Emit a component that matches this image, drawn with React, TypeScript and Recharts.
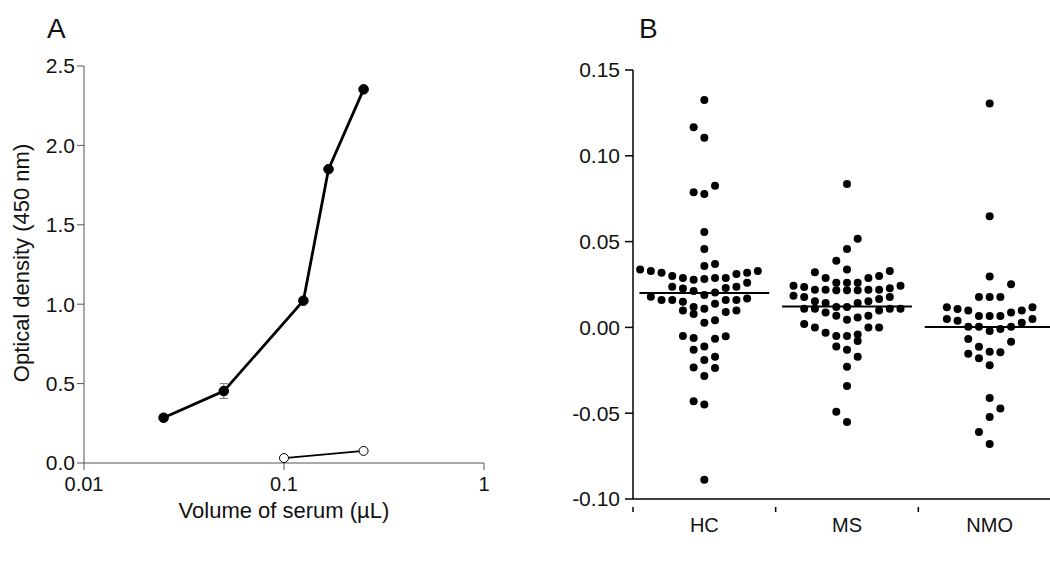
import React from 'react'
import {
  LineChart,
  Line,
  ErrorBar,
  ScatterChart,
  Scatter,
  XAxis,
  YAxis,
  ReferenceLine,
} from 'recharts'

// Panel A: titration of serum
const posVolume = [0.025, 0.05, 0.125, 0.167, 0.25]
const posOD = [0.285, 0.453, 1.022, 1.85, 2.353]
const posErr = [0, 0.047, 0, 0, 0]
const negVolume = [0.1, 0.25]
const negOD = [0.031, 0.076]
const odTicks = [0, 0.5, 1, 1.5, 2, 2.5]
const volumeTicks = [0.01, 0.1, 1]

// Panel B: groups, values and beeswarm column index per dot
const groups = ['HC', 'MS', 'NMO']
const groupMedians = [0.02, 0.0122, 0.0003]
const hcValues = [
  0.1325, 0.1166, 0.1105, 0.0826, 0.0787, 0.0777, 0.0556, 0.0457, 0.0358, 0.0369,
  0.0338, 0.0329, 0.0319, 0.03, 0.0288, 0.0278, 0.0282, 0.0288, 0.0288, 0.0311, 0.0319, 0.0329,
  0.0237, 0.0227, 0.0212, 0.0189, 0.0204, 0.0229, 0.0237, 0.026,
  0.0179, 0.016, 0.016, 0.015, 0.0119, 0.0109, 0.0138, 0.016, 0.016, 0.0169,
  0.0099, 0.0078, 0.009, 0.0099,
  0.0027, 0.0041,
  -0.005, -0.0062, -0.0066, -0.0052,
  -0.0112, -0.013, -0.0171, -0.019, -0.0233, -0.0237, -0.0283,
  -0.0431, -0.045, -0.0888,
]
const hcColumns = [
  0, -1, 0, 1, -1, 0, 0, 0, 0, 1,
  -6, -5, -4, -3, -2, -1, 0, 1, 2, 3, 4, 5,
  -3, -2, -1, 0, 1, 2, 3, 4,
  -5, -4, -3, -2, -1, 0, 1, 2, 3, 4,
  -2, -1, 2, 3,
  0, 1,
  -2, -1, 1, 2,
  0, -1, 1, 0, -1, 1, 0,
  -1, 0, 0,
]
const msValues = [
  0.0836, 0.0517, 0.0457, 0.0389, 0.0338, 0.0321, 0.0329, 0.03, 0.0288, 0.0288,
  0.026, 0.026, 0.026,
  0.0243, 0.0236, 0.022, 0.022, 0.0216, 0.0216, 0.0216, 0.022, 0.022, 0.0228, 0.0243,
  0.0184, 0.0177, 0.0152, 0.0142, 0.0142, 0.0152, 0.0165, 0.0177,
  0.0109, 0.0109, 0.0119, 0.0119, 0.0099, 0.0109, 0.0109,
  0.0087, 0.0068, 0.0058, 0.0068,
  0.0045,
  0.002, 0.0, -0.0031, 0.0, 0.0,
  -0.005, -0.005, -0.0041, -0.0079,
  -0.0111, -0.013, -0.0171, -0.0229,
  -0.0342, -0.0491, -0.0551,
]
const msColumns = [
  0, 1, 0, -1, 0, -3, 4, 3, -2, 2,
  -1, 0, 1,
  -5, -4, -3, -2, -1, 0, 1, 2, 3, 4, 5,
  -5, -4, -3, -2, 1, 2, 3, 4,
  -4, -3, -1, 0, 3, 4, 5,
  -2, -1, 1, 2,
  0,
  -4, -3, -2, 2, 3,
  -1, 0, 1, 1,
  -1, 0, 1, 0,
  0, -1, 0,
]
const nmoValues = [
  0.1305, 0.0647, 0.0297, 0.0251, 0.0177, 0.0177, 0.0177,
  0.0117, 0.0107, 0.0099, 0.0066, 0.0066, 0.0066, 0.0087, 0.0099, 0.0117,
  0.0049, 0.0039, 0.0027, 0.0049,
  0.0004, 0.0004, -0.0021, -0.001, 0.0004,
  -0.0068, -0.0083,
  -0.0113, -0.0142, -0.0145, -0.0153,
  -0.018, -0.0221,
  -0.0411, -0.0472, -0.0522, -0.061, -0.068,
]
const nmoColumns = [
  0, 0, 0, 2, -1, 0, 1,
  -4, -3, -2, -1, 0, 1, 2, 3, 4,
  -4, -3, 3, 4,
  -2, -1, 0, 1, 2,
  -2, 2,
  -1, 0, 1, -2,
  -1, 0,
  0, 1, 0, -1, 0,
]
const groupTicks = [-0.1, -0.05, 0, 0.05, 0.1, 0.15]

const FONT = '"Liberation Sans", Arial, sans-serif'
const COL_STEP = 0.075

const posData = posVolume.map((v, i) => ({ v, od: posOD[i], err: posErr[i] }))
const negData = negVolume.map((v, i) => ({ v, od: negOD[i] }))

const swarm = (values: number[], cols: number[], g: number) =>
  values.map((y, i) => ({ x: g + 0.5 + cols[i] * COL_STEP, y }))

const swarmData = [
  swarm(hcValues, hcColumns, 0),
  swarm(msValues, msColumns, 1),
  swarm(nmoValues, nmoColumns, 2),
]

const Dot = (props: any) => <circle cx={props.cx} cy={props.cy} r={4} fill="#000" />

const GroupTick = (props: any) => {
  const { x, y, payload } = props
  const v = payload.value
  if (Number.isInteger(v)) {
    return <line x1={x} x2={x} y1={y} y2={y + 5} stroke="#000" strokeWidth={1.5} />
  }
  return (
    <text x={x} y={y + 25} textAnchor="middle" fontSize={20} fontFamily={FONT} fill="#111">
      {groups[Math.floor(v)]}
    </text>
  )
}

export default function App() {
  return (
    <div
      style={{
        position: 'absolute',
        left: 0,
        top: 0,
        width: 1050,
        height: 564,
        overflow: 'hidden',
        background: '#fff',
        fontFamily: FONT,
        color: '#111',
      }}
    >
      {/* panel letters */}
      <div style={{ position: 'absolute', left: 47, top: 13, fontSize: 28, lineHeight: '32px' }}>A</div>
      <div style={{ position: 'absolute', left: 639, top: 13, fontSize: 28, lineHeight: '32px' }}>B</div>

      {/* Panel A */}
      <div style={{ position: 'absolute', left: 0, top: 0 }}>
        <LineChart width={520} height={564} margin={{ top: 66, left: 24, right: 36, bottom: 71 }}>
          <XAxis
            dataKey="v"
            type="number"
            scale="log"
            domain={[0.01, 1]}
            ticks={volumeTicks}
            allowDataOverflow
            tickFormatter={(v: number) => String(v)}
            tickSize={7}
            tickMargin={7}
            stroke="#555"
            tick={{ fill: '#111', fontSize: 20, fontFamily: FONT }}
          />
          <YAxis
            type="number"
            domain={[0, 2.5]}
            ticks={odTicks}
            tickFormatter={(v: number) => v.toFixed(1)}
            tickSize={7}
            tickMargin={2}
            width={60}
            stroke="#555"
            tick={{ fill: '#111', fontSize: 21, fontFamily: FONT }}
          />
          <Line
            data={posData}
            dataKey="od"
            stroke="#000"
            strokeWidth={2.8}
            dot={{ r: 4.8, fill: '#000', stroke: '#000', strokeWidth: 1 }}
            isAnimationActive={false}
          >
            <ErrorBar dataKey="err" width={4} stroke="#777" strokeWidth={1} direction="y" />
          </Line>
          <Line
            data={negData}
            dataKey="od"
            stroke="#000"
            strokeWidth={1.8}
            dot={{ r: 4.5, fill: '#fff', stroke: '#000', strokeWidth: 1 }}
            isAnimationActive={false}
          />
        </LineChart>
      </div>
      <div
        style={{
          position: 'absolute',
          left: -128,
          top: 250,
          width: 300,
          lineHeight: '26px',
          textAlign: 'center',
          fontSize: 22,
          transform: 'rotate(-90deg)',
        }}
      >
        Optical density (450 nm)
      </div>
      <div
        style={{
          position: 'absolute',
          left: 134,
          top: 498,
          width: 300,
          lineHeight: '26px',
          textAlign: 'center',
          fontSize: 22,
        }}
      >
        Volume of serum (µL)
      </div>

      {/* Panel B */}
      <div style={{ position: 'absolute', left: 520, top: 0 }}>
        <ScatterChart width={560} height={564} margin={{ top: 70, left: 53, right: 19, bottom: 35 }}>
          <XAxis
            dataKey="x"
            type="number"
            domain={[0, 3]}
            ticks={[0, 0.5, 1, 1.5, 2, 2.5, 3]}
            interval={0}
            tickLine={false}
            tick={<GroupTick />}
            axisLine={{ stroke: '#000', strokeWidth: 1.5 }}
          />
          <YAxis
            dataKey="y"
            type="number"
            domain={[-0.1, 0.15]}
            ticks={groupTicks}
            interval={0}
            tickFormatter={(v: number) => v.toFixed(2)}
            tickSize={8}
            tickMargin={5}
            width={60}
            axisLine={{ stroke: '#000', strokeWidth: 1.5 }}
            tickLine={{ stroke: '#000', strokeWidth: 1.5 }}
            tick={{ fill: '#111', fontSize: 21, fontFamily: FONT }}
          />
          {swarmData.map((d, g) => (
            <Scatter key={groups[g]} data={d} shape={Dot} isAnimationActive={false} />
          ))}
          {groupMedians.map((m, g) => (
            <ReferenceLine
              key={'med' + g}
              segment={[
                { x: g + 0.045, y: m },
                { x: g + 0.955, y: m },
              ]}
              stroke="#000"
              strokeWidth={2}
            />
          ))}
        </ScatterChart>
      </div>
    </div>
  )
}
